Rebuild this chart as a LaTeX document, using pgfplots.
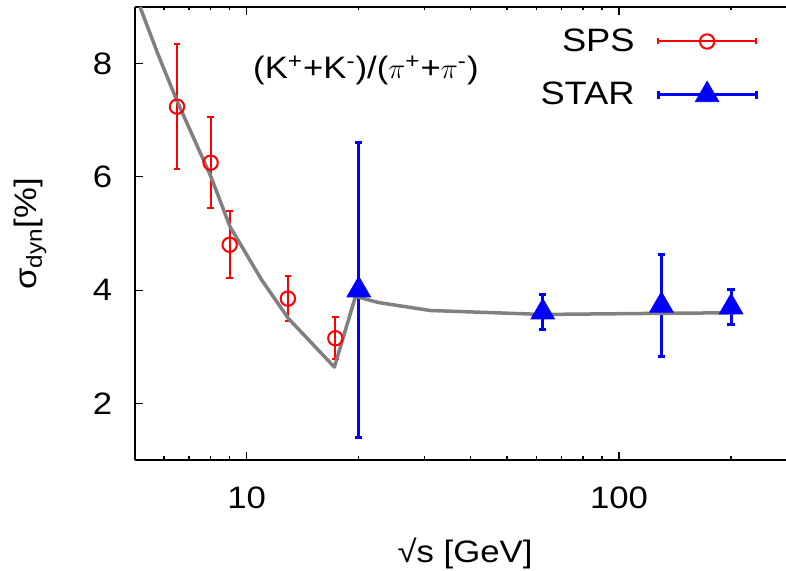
\documentclass[border=0pt]{standalone}
\usepackage{fontspec}
\setmainfont{Liberation Sans}[FakeStretch=1.12]
\usepackage{pgfplots}
\pgfplotsset{compat=1.18}
\usetikzlibrary{calc}
\newcommand\lbl{\fontsize{15.5}{18}\selectfont}
\newcommand\leg{\fontsize{16.2}{19}\selectfont}

% legend samples: horizontal error bar with the marker in the middle
\pgfplotsset{
    spsleg/.style={legend image code/.code={
        \draw[red, line width=1pt] (0pt,0pt) -- (49pt,0pt)
            (0pt,-1.5pt) -- (0pt,1.5pt) (49pt,-1.5pt) -- (49pt,1.5pt);
        \draw[##1] plot coordinates {(24.5pt,0pt)};
    }},
    starleg/.style={legend image code/.code={
        \draw[blue, line width=1.5pt] (0pt,0pt) -- (49pt,0pt)
            (0pt,-1.8pt) -- (0pt,1.8pt) (49pt,-1.8pt) -- (49pt,1.8pt);
        \draw[##1] plot coordinates {(24.5pt,0pt)};
    }},
}

\begin{document}
\begin{tikzpicture}
\begin{axis}[
    name=ax,
    xmode=log,
    scale only axis,
    width=325.5pt, height=226.5pt,
    xmin=5.012, xmax=280.9,
    ymin=1, ymax=9,
    axis x line=box, axis y line=left,
    axis line style={black, line width=0.6pt, -},
    xtick={10,100}, xticklabels={10,100},
    minor xtick={6,7,8,9,20,30,40,50,60,70,80,90,200},
    ytick={2,4,6,8}, minor ytick={},
    tick align=inside,
    major tick length=4pt, minor tick length=1.75pt,
    tick style={black, line width=0.6pt},
    /pgf/number format/assume math mode=true,
    tick label style={font=\lbl},
    xticklabel style={anchor=base, yshift=-24.5pt},
    yticklabel style={anchor=east, inner sep=0pt, xshift=-11.2pt},
    xlabel={√s [GeV]},
    xlabel style={font=\lbl, at={(axis description cs:0.507,-0.2274)}, anchor=base},
    ylabel={σ\textsubscript{dyn}[\%]},
    ylabel style={font=\lbl, at={(axis description cs:-0.1613,0.499)}, anchor=center},
    legend plot pos=right,
    legend cell align=right,
    legend style={draw=none, fill=none, font=\leg, inner sep=0pt,
        at={(axis description cs:0.957,0.953)}, anchor=north east,
        nodes={inner sep=0pt},
        /tikz/every odd column/.append style={column sep=11pt},
        /tikz/row sep=13.5pt},
]

% SPS
\addplot[red, only marks, mark=o, mark size=3.6pt, line width=1pt, spsleg,
    error bars/.cd, y dir=both, y explicit,
    error bar style={line width=1pt, red},
    error mark options={rotate=90, red, line width=1pt, mark size=1.6pt}]
    table[x=x, y=y, y error=e] {
x     y     e
6.5   7.24  1.11
8.0   6.25  0.80
9.0   4.80  0.59
12.9  3.85  0.40
17.3  3.15  0.37
};
\addlegendentry{SPS}

% STAR
\addplot[blue, only marks, mark=triangle*, mark size=6.8pt, line width=1.5pt,
    mark options={line width=0.4pt, fill=blue}, starleg,
    error bars/.cd, y dir=both, y explicit,
    error bar style={line width=1.5pt, blue},
    error mark options={rotate=90, blue, line width=1.5pt, mark size=1.8pt}]
    table[x=x, y=y, y error=e] {
x     y     e
20    4.00  2.60
62.4  3.61  0.31
130   3.73  0.90
200   3.70  0.31
};
\addlegendentry{STAR}

% model curve
\addplot[color={rgb,255:red,128;green,128;blue,128}, line width=1.75pt, line join=round, no marks, forget plot]
    table {
x     y
5.17  9.00
5.79  8.15
6.49  7.35
8.02  6.00
9.02  5.12
10.97 4.18
12.94 3.50
17.2  2.64
19.6  3.89
22.6  3.78
31.1  3.64
62.4  3.57
130   3.59
205   3.60
};

\node[font=\lbl, anchor=base] at (axis cs:20.9,7.735)
    {(K\textsuperscript{+}+K\textsuperscript{-})/($\pi$\textsuperscript{+}+$\pi$\textsuperscript{-})};
\end{axis}
\pgfresetboundingbox
\path[use as bounding box] ($(ax.south west)+(-67.5pt,-55.5pt)$) rectangle ($(ax.north east)+(0pt,3.5pt)$);
\end{tikzpicture}
\end{document}
